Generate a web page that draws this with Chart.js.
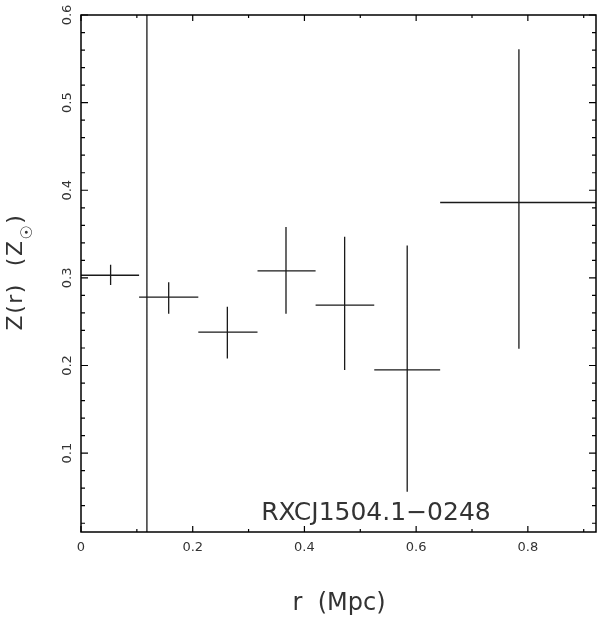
<!DOCTYPE html>
<html>
<head>
<meta charset="utf-8">
<script src="https://cdn.jsdelivr.net/npm/chart.js@4.4.1/dist/chart.umd.min.js"></script>
<style>
  html, body { margin: 0; padding: 0; background: #fff; }
  #wrap { width: 600px; height: 624px; }
</style>
</head>
<body>
<div id="wrap"><canvas id="zProfile"></canvas></div>
<script>
// radial bins (Mpc) and metallicity (solar)
var rMid  = [0.053, 0.157, 0.262, 0.367, 0.472, 0.584, 0.784];
var rLow  = [0.000, 0.104, 0.210, 0.316, 0.420, 0.525, 0.643];
var rHigh = [0.104, 0.210, 0.316, 0.420, 0.525, 0.643, 0.925];
var zVal  = [0.303, 0.278, 0.238, 0.308, 0.269, 0.195, 0.386];
var zLow  = [0.292, 0.259, 0.208, 0.259, 0.195, 0.056, 0.219];
var zHigh = [0.315, 0.295, 0.267, 0.358, 0.347, 0.337, 0.561];

// unconstrained bin, its error bar runs off the whole plot
var spikeR = 0.118;
var spikeZ = [-1, 2];

var yTicks = [0.1, 0.2, 0.3, 0.4, 0.5, 0.6];
var clusterName = 'RXCJ1504.1\u22120248';
var labelR = 0.528, labelZ = 0.024;

var hSeg = [], vSeg = [];
for (var i = 0; i < rMid.length; i++) {
    hSeg.push({x: rLow[i], y: zVal[i]}, {x: rHigh[i], y: zVal[i]}, {x: null, y: null});
    vSeg.push({x: rMid[i], y: zLow[i]}, {x: rMid[i], y: zHigh[i]}, {x: null, y: null});
}
vSeg.push({x: spikeR, y: spikeZ[0]}, {x: spikeR, y: spikeZ[1]});

var FONT = '"DejaVu Sans", sans-serif';

var frame = {
    id: 'frame',
    afterDraw: function(chart) {
        var ctx = chart.ctx, a = chart.chartArea;
        var xs = chart.scales.x, ys = chart.scales.y;
        ctx.save();
        ctx.strokeStyle = '#000';
        ctx.lineWidth = 1.5;
        ctx.strokeRect(a.left, a.top, a.right - a.left, a.bottom - a.top);

        ctx.lineWidth = 1.2;
        ctx.beginPath();
        for (var k = 0; k <= 9; k++) {
            var v = k / 10;
            if (v > xs.max) break;
            var px = xs.getPixelForValue(v);
            var len = k % 2 == 0 ? 6 : 3;
            ctx.moveTo(px, a.bottom); ctx.lineTo(px, a.bottom - len);
            ctx.moveTo(px, a.top); ctx.lineTo(px, a.top + len);
        }
        for (var j = 1; j <= 30; j++) {
            var py = ys.getPixelForValue(j * 0.02);
            var l = j % 5 == 0 ? 7 : 4;
            ctx.moveTo(a.left, py); ctx.lineTo(a.left + l, py);
            ctx.moveTo(a.right, py); ctx.lineTo(a.right - l, py);
        }
        ctx.stroke();

        // y tick labels, rotated
        ctx.fillStyle = '#333';
        ctx.font = '13px ' + FONT;
        ctx.textAlign = 'center';
        ctx.textBaseline = 'middle';
        yTicks.forEach(function(t) {
            var py = ys.getPixelForValue(t);
            ctx.save();
            ctx.translate(68, py);
            ctx.rotate(-Math.PI / 2);
            ctx.fillText(t.toFixed(1), 0, 0);
            ctx.restore();
        });

        // y title with subscript sun symbol
        ctx.save();
        ctx.translate(22, 272);
        ctx.rotate(-Math.PI / 2);
        ctx.textBaseline = 'alphabetic';
        ctx.textAlign = 'left';
        ctx.letterSpacing = '1.5px';
        var big = '22px ' + FONT, small = '16px ' + FONT;
        var p1 = 'Z(r)  (Z', p2 = '\u2609', p3 = ')';
        ctx.font = big; var w1 = ctx.measureText(p1).width, w3 = ctx.measureText(p3).width;
        ctx.font = small; var w2 = ctx.measureText(p2).width;
        var x0 = -(w1 + w2 + w3) / 2;
        ctx.font = big; ctx.fillText(p1, x0, 0);
        ctx.font = small; ctx.fillText(p2, x0 + w1, 10);
        ctx.font = big; ctx.fillText(p3, x0 + w1 + w2, 0);
        ctx.restore();

        // x title
        ctx.font = '24px ' + FONT;
        ctx.textAlign = 'center';
        ctx.textBaseline = 'alphabetic';
        ctx.fillText('r  (Mpc)', 339, 610);

        // cluster name
        ctx.font = '25px ' + FONT;
        ctx.fillText(clusterName, xs.getPixelForValue(labelR), ys.getPixelForValue(labelZ));
        ctx.restore();
    }
};

var ctx = document.getElementById('zProfile');
var zChart = new Chart(ctx, {
    type: 'scatter',
    data: {
        datasets: [{
            data: hSeg,
            showLine: true,
            spanGaps: false,
            borderColor: '#1a1a1a',
            borderWidth: 1.3,
            pointRadius: 0
        }, {
            data: vSeg,
            showLine: true,
            spanGaps: false,
            borderColor: '#1a1a1a',
            borderWidth: 1.3,
            pointRadius: 0
        }]
    },
    options: {
        responsive: true,
        maintainAspectRatio: false,
        animation: false,
        layout: { padding: { top: 15, right: 4, left: 0, bottom: 0 } },
        plugins: { legend: { display: false }, tooltip: { enabled: false } },
        scales: {
            x: {
                type: 'linear',
                min: 0,
                max: 0.922,
                grid: { display: false, drawTicks: false },
                border: { display: false },
                ticks: {
                    stepSize: 0.2,
                    includeBounds: false,
                    maxRotation: 0,
                    padding: 8,
                    color: '#333',
                    font: { family: FONT, size: 13 },
                    callback: function(v) { return v == 0 ? '0' : v.toFixed(1); }
                },
                afterFit: function(scale) { scale.height = 92; }
            },
            y: {
                type: 'linear',
                min: 0.01,
                max: 0.6,
                grid: { display: false, drawTicks: false },
                border: { display: false },
                ticks: { display: false },
                afterFit: function(scale) { scale.width = 81; }
            }
        }
    },
    plugins: [frame]
});
</script>
</body>
</html>
